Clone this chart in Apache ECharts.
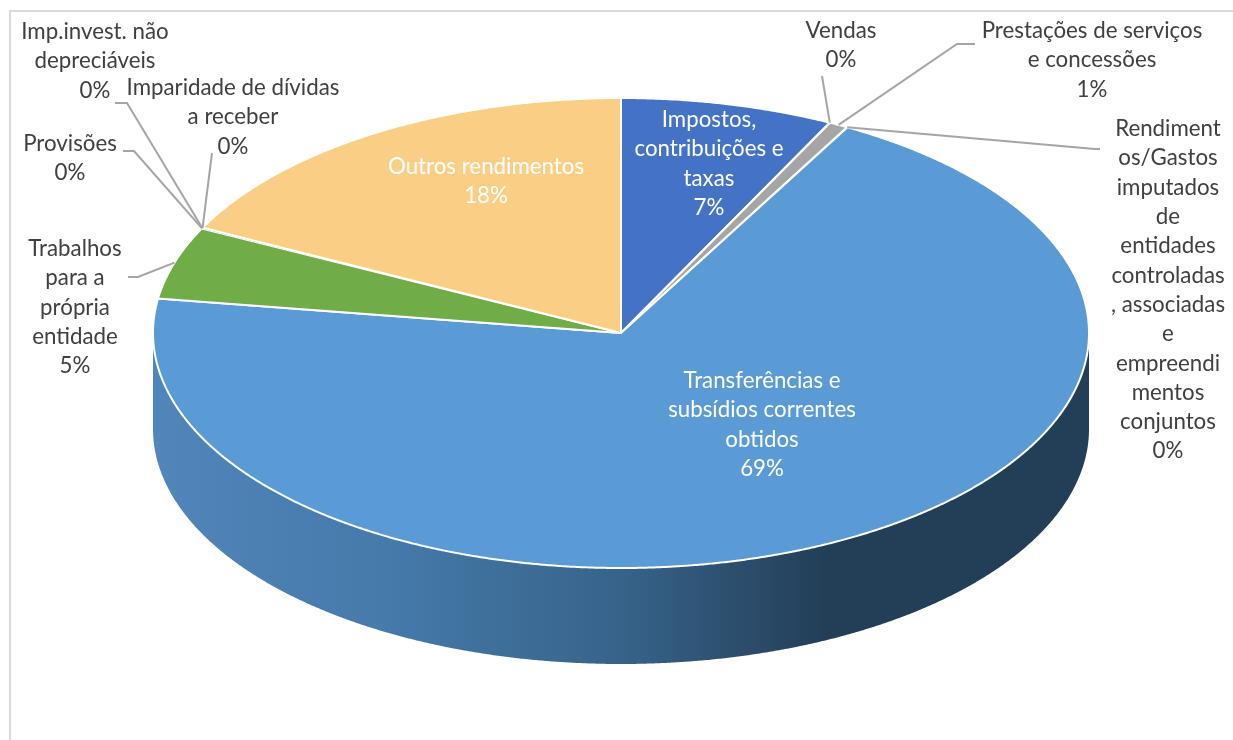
<!DOCTYPE html>
<html><head><meta charset="utf-8">
<style>html,body{margin:0;padding:0;background:#fff}#c{width:1233px;height:740px}</style>
<script src="https://cdn.jsdelivr.net/npm/echarts@6/dist/echarts.min.js"></script>
</head><body><div id="c"></div>
<script>
// Data, clockwise from 12 o'clock
const categories = ['Impostos,\ncontribuições e\ntaxas','Vendas','Prestações de serviços\ne concessões','Rendiment\nos/Gastos\nimputados\nde\nentidades\ncontroladas\n, associadas\ne\nempreendi\nmentos\nconjuntos','Transferências e\nsubsídios correntes\nobtidos','Trabalhos\npara a\nprópria\nentidade','Provisões','Imp.invest. não\ndepreciáveis','Imparidade de dívidas\na receber','Outros rendimentos'];
const values = [7.35, 0.02, 0.65, 0.02, 69.3, 5.0, 0.02, 0.02, 0.02, 17.6];
const colors = ['#4472C4','#4472C4','#A5A5A5','#5B9BD5','#5B9BD5','#70AD47','#A5A5A5','#70AD47','#5B9BD5','#FBCE86'];
// Label layout: text centre x, first-line centre y, colour
const labelX = [709, 841, 1092, 1168, 762, 75, 70, 95, 233, 486];
const labelY = [120, 31, 31, 129, 381, 249, 144, 32, 88, 167];
const labelLight = [1,0,0,0,1,0,0,0,0,1];
// Leader line bends (null: label sits inside the slice)
const leaders = [null, [[822,76]], [[957,44],[975,44]], [[1095,149],[1100,149]], null, [[138,277],[128,277]], [[134,151],[123,151]], [[127,103],[115,103]], [[212,153]], null];

const CX = 621, CY = 333, RX = 468, RY = 235, DEPTH = 96, LINE = 29.3;
const total = values.reduce((a,b)=>a+b,0);
let acc = 0;
const spans = values.map(v=>{const s=acc/total*360; acc+=v; return [s, acc/total*360];});
const pt = (deg, dy=0)=>{const r=deg*Math.PI/180; return [CX+RX*Math.sin(r), CY-RY*Math.cos(r)+dy];};
const arc = (a,b,dy=0)=>{const out=[];const n=Math.max(2,Math.ceil((b-a)/0.25));for(let i=0;i<=n;i++)out.push(pt(a+(b-a)*i/n,dy));return out;};
const idx = values.map((_,i)=>[i]);

const wallFill = new echarts.graphic.LinearGradient(CX-RX,0,CX+RX,0,[
  {offset:0,color:'#5285BA'},{offset:0.25,color:'#457AAA'},{offset:0.5,color:'#37638A'},{offset:0.72,color:'#233E57'},{offset:1,color:'#233E57'}],true);

const option = {
  animation:false,
  backgroundColor:'#fff',
  graphic:[{type:'rect',silent:true,z:0,shape:{x:10,y:11,width:1300,height:800},style:{fill:'#fff',stroke:'#D9D9D9',lineWidth:2}}],
  series:[
    {type:'custom',coordinateSystem:'none',silent:true,z:2,data:idx,renderItem(p,api){
      const i=api.value(0);const a=Math.max(spans[i][0],90),b=Math.min(spans[i][1],270);
      if(b<=a) return {type:'group',children:[]};
      const pts=arc(a,b,0).concat(arc(a,b,DEPTH).reverse());
      return {type:'polygon',shape:{points:pts},style:{fill:wallFill}};
    }},
    {type:'custom',coordinateSystem:'none',silent:true,z:3,data:idx,renderItem(p,api){
      const i=api.value(0);
      const pts=[[CX,CY]].concat(arc(spans[i][0],spans[i][1]));
      return {type:'polygon',shape:{points:pts},style:{fill:colors[i],stroke:'#fff',lineWidth:values[i]<0.1?0:2,lineJoin:'round'}};
    }},
    {type:'custom',coordinateSystem:'none',silent:true,z:4,data:idx,renderItem(p,api){
      const i=api.value(0);
      if(!leaders[i]) return {type:'group',children:[]};
      const pts=[pt((spans[i][0]+spans[i][1])/2)].concat(leaders[i]);
      return {type:'polyline',shape:{points:pts},style:{fill:null,stroke:'#A5A5A5',lineWidth:2}};
    }},
    {type:'custom',coordinateSystem:'none',silent:true,z:5,data:idx,renderItem(p,api){
      const i=api.value(0);
      return {type:'text',style:{
        text:categories[i]+'\n'+Math.round(values[i]/total*100)+'%',
        x:labelX[i],y:labelY[i]-LINE/2,align:'center',verticalAlign:'top',
        lineHeight:LINE,fontSize:22.3,fontFamily:'Lato',
        fill:labelLight[i]?'#fff':'#404040'}};
    }}
  ]
};
echarts.init(document.getElementById('c'),null,{renderer:'canvas'}).setOption(option);
</script></body></html>
